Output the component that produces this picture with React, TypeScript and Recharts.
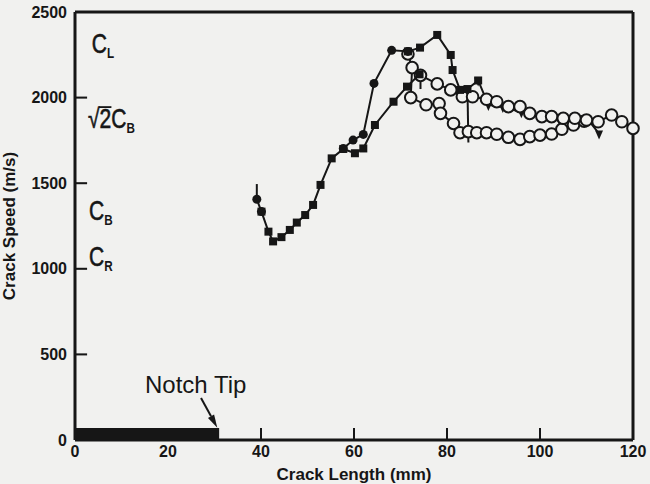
import { ScatterChart, Scatter, XAxis, YAxis, ReferenceArea, ReferenceLine, ReferenceDot } from 'recharts';

const INK = '#161616';
const PAPER = '#f1f1ef';
const FONT = '"Liberation Sans", Arial, sans-serif';

// first reading (filled circle) with its error bar
const startX = [39.1, 40.1];
const startY = [1406, 1334];

// lower branch, filled squares
const lowX = [40.1, 41.6, 42.6, 44.4, 46.2, 47.7, 49.5, 51.2, 52.8, 55.2, 57.7, 60.2, 62.0, 64.5, 68.5, 71.4, 74.1];
const lowY = [1334, 1217, 1160, 1185, 1227, 1270, 1314, 1373, 1490, 1645, 1700, 1675, 1703, 1840, 1976, 2064, 2136];

// steep branch, filled circles
const steepX = [57.7, 59.8, 62.0, 64.3, 68.1, 71.6];
const steepY = [1703, 1752, 1785, 2083, 2276, 2270];

// top branch, filled squares then small triangles
const topX = [71.6, 74.2, 77.9, 80.8, 81.2, 82.8, 84.4, 86.7];
const topY = [2270, 2292, 2366, 2249, 2161, 2045, 2050, 2100];
const tailX = [86.7, 88.9, 92.0, 96.0, 100.0, 104.0, 108.0, 110.5, 112.7];
const tailY = [2100, 1957, 1945, 1915, 1885, 1880, 1872, 1865, 1790];

// sudden drop near 84 mm
const dropX = [84.4, 84.6];
const dropY = [2050, 1738];

// open circles, lower run
const o1X = [71.6, 72.5, 72.2, 75.5, 78.3, 78.6, 81.4, 82.8, 84.6, 86.4, 88.5, 90.7, 93.2, 95.7, 97.8, 100.0, 102.5, 104.7, 107.2, 109.5];
const o1Y = [2255, 2175, 2000, 1958, 1965, 1908, 1849, 1795, 1801, 1795, 1795, 1786, 1768, 1756, 1772, 1781, 1787, 1815, 1840, 1862];

// open circles, upper run
const o2X = [74.3, 77.9, 80.8, 83.3, 85.5, 88.5, 90.7, 93.2, 95.7, 97.8, 100.4, 102.5, 105.0, 107.5, 110.0, 112.5, 115.4, 117.6, 120.0];
const o2Y = [2130, 2080, 2045, 2005, 2005, 1990, 1976, 1947, 1947, 1908, 1889, 1889, 1879, 1879, 1869, 1859, 1898, 1859, 1820];

// error bars: x, low, high
const errX = [39.1, 74.3];
const errLo = [1406, 2050];
const errHi = [1495, 2136];

const xTicks = [0, 20, 40, 60, 80, 100, 120];
const yTicks = [0, 500, 1000, 1500, 2000, 2500];

// notch region and wave speed labels
const notchEnd = 31;
const notchTop = 70;
const speedLabels = [
  { main: 'C', sub: 'L', x: 3.6, y: 2260 },
  { main: '√2C', sub: 'B', x: 2.8, y: 1822 },
  { main: 'C', sub: 'B', x: 3.0, y: 1285 },
  { main: 'C', sub: 'R', x: 3.0, y: 1016 },
];

const pts = (xs: number[], ys: number[]) => xs.map((x, i) => ({ x, y: ys[i] }));

const squareDot = (s: number) => (p: any) => (
  <rect x={p.cx - s / 2} y={p.cy - s / 2} width={s} height={s} fill={INK} />
);
const filledDot = (r: number) => (p: any) => <circle cx={p.cx} cy={p.cy} r={r} fill={INK} />;
const openDot = (p: any) => (
  <circle cx={p.cx} cy={p.cy} r={5.8} fill={PAPER} stroke={INK} strokeWidth={2} />
);
const triDot = (p: any) => (
  <polygon points={`${p.cx - 4},${p.cy - 3} ${p.cx + 4},${p.cy - 3} ${p.cx},${p.cy + 6}`} fill={INK} />
);
const noDot = () => <g />;

const lineStyle = { stroke: INK, strokeWidth: 2 };
const tickStyle = { fill: INK, fontSize: 16, fontWeight: 'bold', fontFamily: FONT };

// inward tick marks as thin filled strips (data units: ~12 px long, ~2 px thick)
const xTickLen = 70;
const xTickHalf = 0.22;
const yTickLen = 2.6;
const yTickHalf = 6;

const SpeedText = ({ cx, cy, main, sub }: any) => {
  const root = main.startsWith('√');
  return (
    <g transform={`translate(${cx},${cy}) scale(0.78,1)`}>
      <text x={0} y={0} fill={INK} stroke={INK} strokeWidth={0.6} fontFamily={FONT} fontSize={27}>
        {main}
        <tspan fontSize={15} fontWeight="bold" strokeWidth={0} dy={5}>{sub}</tspan>
      </text>
      {root && <line x1={14} y1={-21} x2={30} y2={-21} stroke={INK} strokeWidth={1.8} />}
    </g>
  );
};

const Arrow = ({ x1, y1, x2, y2 }: any) => {
  const a = Math.atan2(y2 - y1, x2 - x1);
  const L = 13;
  const W = 3.5;
  const bx = x2 - L * Math.cos(a);
  const by = y2 - L * Math.sin(a);
  const px = -Math.sin(a) * W;
  const py = Math.cos(a) * W;
  return (
    <g>
      <line x1={x1} y1={y1} x2={bx} y2={by} stroke={INK} strokeWidth={2} />
      <polygon points={`${x2},${y2} ${bx + px},${by + py} ${bx - px},${by - py}`} fill={INK} />
    </g>
  );
};

export default function App() {
  return (
    <div style={{ position: 'absolute', left: 0, top: 0, width: 650, height: 484, background: PAPER }}>
      <ScatterChart width={650} height={484} margin={{ top: 12, right: 17, bottom: 0, left: 0 }}>
        <ReferenceArea x1={0} x2={notchEnd} y1={0} y2={notchTop} fill={INK} fillOpacity={1} stroke="none" />
        {xTicks.slice(1, -1).map((t) => (
          <ReferenceArea key={'xt' + t} x1={t - xTickHalf} x2={t + xTickHalf} y1={0} y2={xTickLen} fill={INK} fillOpacity={1} stroke="none" />
        ))}
        {yTicks.slice(1, -1).map((t) => (
          <ReferenceArea key={'yt' + t} x1={0} x2={yTickLen} y1={t - yTickHalf} y2={t + yTickHalf} fill={INK} fillOpacity={1} stroke="none" />
        ))}
        <XAxis
          type="number"
          dataKey="x"
          domain={[0, 120]}
          ticks={xTicks}
          tickSize={0}
          tickMargin={6}
          height={44}
          tick={tickStyle}
          axisLine={{ stroke: INK, strokeWidth: 3 }}
          tickLine={false}
          label={{ value: 'Crack Length (mm)', position: 'insideBottom', offset: 4, style: { fill: INK, fontSize: 17, fontWeight: 'bold', fontFamily: FONT } }}
        />
        <YAxis
          type="number"
          dataKey="y"
          domain={[0, 2500]}
          ticks={yTicks}
          tickSize={0}
          tickMargin={8}
          width={75}
          tick={tickStyle}
          axisLine={{ stroke: INK, strokeWidth: 3 }}
          tickLine={false}
          label={{ value: 'Crack Speed (m/s)', angle: -90, position: 'insideLeft', offset: 9, style: { fill: INK, fontSize: 17, fontWeight: 'bold', fontFamily: FONT, textAnchor: 'middle' } }}
        />
        <ReferenceLine y={2500} stroke={INK} strokeWidth={3} />
        <ReferenceLine x={120} stroke={INK} strokeWidth={3} />
        <ReferenceLine segment={[{ x: 27.1, y: 245 }, { x: 30.6, y: 72 }]} shape={(p: any) => <Arrow {...p} />} />
        <ReferenceDot
          x={15.05}
          y={275}
          r={0}
          shape={(p: any) => (
            <text x={p.cx} y={p.cy} fill={INK} fontFamily={FONT} fontSize={24}>Notch Tip</text>
          )}
        />
        {speedLabels.map((s) => (
          <ReferenceDot key={s.main + s.sub} x={s.x} y={s.y} r={0} shape={(p: any) => <SpeedText cx={p.cx} cy={p.cy} main={s.main} sub={s.sub} />} />
        ))}
        {errX.map((x, i) => (
          <ReferenceLine key={'e' + i} segment={[{ x, y: errLo[i] }, { x, y: errHi[i] }]} stroke={INK} strokeWidth={2} />
        ))}
        <Scatter data={pts(tailX, tailY)} line={lineStyle} shape={triDot} isAnimationActive={false} />
        <Scatter data={pts(dropX, dropY)} line={lineStyle} shape={noDot} isAnimationActive={false} />
        <Scatter data={pts(o1X, o1Y)} line={lineStyle} shape={openDot} isAnimationActive={false} />
        <Scatter data={pts(o2X, o2Y)} line={lineStyle} shape={openDot} isAnimationActive={false} />
        <Scatter data={pts(startX, startY)} line={lineStyle} shape={filledDot(4.5)} isAnimationActive={false} />
        <Scatter data={pts(lowX, lowY)} line={lineStyle} shape={squareDot(8)} isAnimationActive={false} />
        <Scatter data={pts(steepX, steepY)} line={lineStyle} shape={filledDot(4.5)} isAnimationActive={false} />
        <Scatter data={pts(topX, topY)} line={lineStyle} shape={squareDot(8)} isAnimationActive={false} />
      </ScatterChart>
    </div>
  );
}
